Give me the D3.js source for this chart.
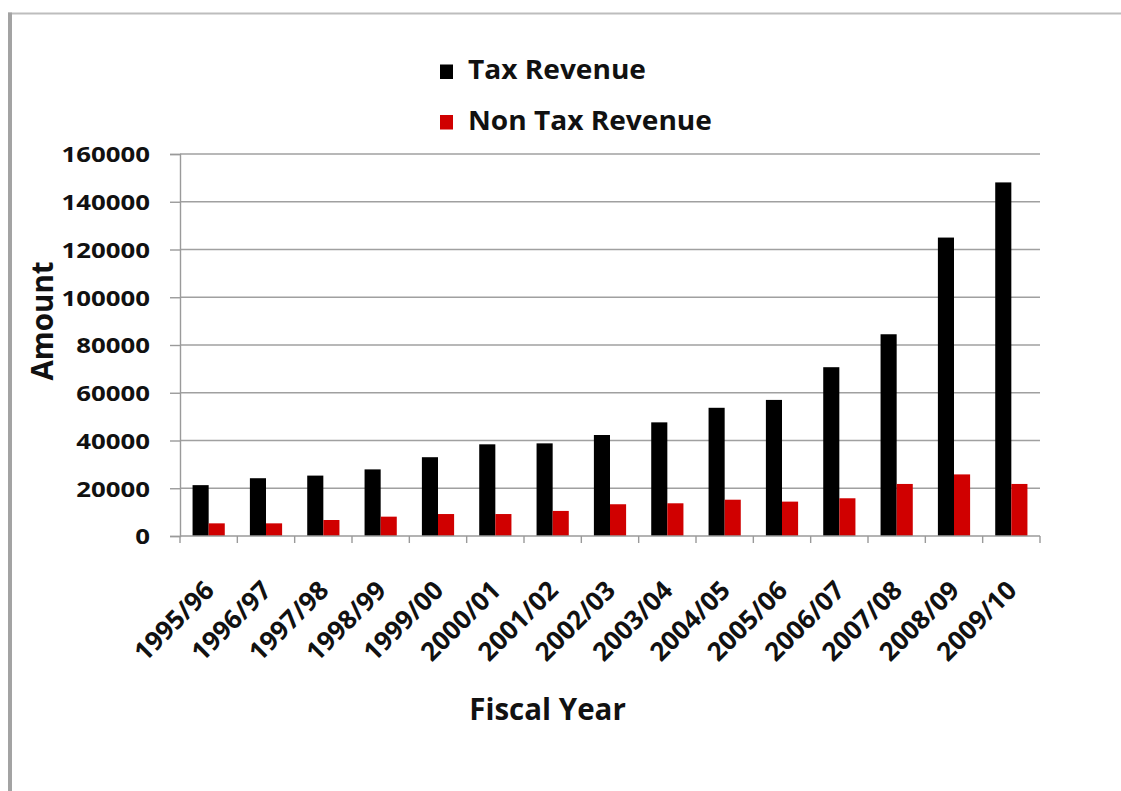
<!DOCTYPE html>
<html>
<head>
<meta charset="utf-8">
<script src="https://cdn.jsdelivr.net/npm/d3@7"></script>
<style>
  html, body { margin: 0; padding: 0; background: #ffffff; }
  svg { display: block; }
  text { font-family: "Open Sans", "Noto Sans", sans-serif; font-weight: 700; fill: #111; }
</style>
</head>
<body>
<svg id="chart" width="1121" height="791"></svg>
<script>
// Fiscal years on the category axis
const years = ["1995/96","1996/97","1997/98","1998/99","1999/00","2000/01","2001/02",
               "2002/03","2003/04","2004/05","2005/06","2006/07","2007/08","2008/09","2009/10"];
// Revenue series
const taxRevenue    = [21300, 24200, 25300, 27900, 33000, 38400, 38800, 42300,
                       47600, 53700, 57000, 70700, 84500, 125000, 148100];
const nonTaxRevenue = [5300, 5300, 6700, 8100, 9200, 9200, 10500, 13300,
                       13700, 15200, 14400, 15800, 21800, 25800, 21800];
const seriesNames  = ["Tax Revenue", "Non Tax Revenue"];
const seriesColors = ["#000000", "#d00000"];
const yTicks = [0, 20000, 40000, 60000, 80000, 100000, 120000, 140000, 160000];

const svg = d3.select("#chart");
const W = 1121, H = 791;
const plot = { left: 180, right: 1040, top: 154, bottom: 536 };

// outer frame
svg.append("line").attr("x1", 8).attr("x2", W).attr("y1", 13.5).attr("y2", 13.5)
  .attr("stroke", "#bdbdbd").attr("stroke-width", 2);
svg.append("line").attr("x1", 10).attr("x2", 10).attr("y1", 12.5).attr("y2", H)
  .attr("stroke", "#a3a3a3").attr("stroke-width", 4);

const x0 = d3.scaleBand().domain(years).range([plot.left, plot.right]).padding(0);
const x1 = d3.scaleBand().domain(seriesNames).range([0, x0.bandwidth()])
  .paddingInner(0).paddingOuter(0.78);
const y = d3.scaleLinear().domain([0, 160000]).range([plot.bottom, plot.top]);

// horizontal gridlines
svg.append("g").selectAll("line").data(yTicks.filter(d => d > 0)).join("line")
  .attr("x1", plot.left).attr("x2", plot.right)
  .attr("y1", d => y(d)).attr("y2", d => y(d))
  .attr("stroke", "#a0a0a0").attr("stroke-width", 1.5);

// y axis
const yAxis = svg.append("g").attr("transform", `translate(${plot.left},0)`)
  .call(d3.axisLeft(y).tickValues(yTicks).tickSize(10).tickPadding(20).tickFormat(d3.format("d")));
yAxis.select(".domain").attr("stroke", "#9a9a9a").attr("stroke-width", 1.4);
yAxis.selectAll(".tick line").attr("stroke", "#9a9a9a").attr("stroke-width", 1.4);
yAxis.selectAll(".tick text")
  .style("font-family", "'Open Sans', sans-serif").style("font-weight", 700)
  .attr("font-size", 21.5).attr("fill", "#111").attr("dy", "0.36em")
  .each(function () {
    const w = this.getComputedTextLength();
    d3.select(this).attr("textLength", w * 1.2).attr("lengthAdjust", "spacingAndGlyphs");
  });

// bars
const rows = years.map((yr, i) => ({ yr, vals: [taxRevenue[i], nonTaxRevenue[i]] }));
const groups = svg.append("g").selectAll("g").data(rows).join("g")
  .attr("transform", d => `translate(${x0(d.yr)},0)`);
groups.selectAll("rect")
  .data(d => d.vals.map((v, k) => ({ name: seriesNames[k], v, k })))
  .join("rect")
  .attr("x", d => x1(d.name))
  .attr("width", x1.bandwidth())
  .attr("y", d => y(d.v))
  .attr("height", d => y(0) - y(d.v))
  .attr("fill", d => seriesColors[d.k]);

// x axis with category boundary ticks
const xAxisG = svg.append("g").attr("transform", `translate(0,${plot.bottom})`);
xAxisG.append("line").attr("x1", plot.left).attr("x2", plot.right)
  .attr("stroke", "#9a9a9a").attr("stroke-width", 1.4);
const bounds = years.map(d => x0(d)).concat([plot.right]);
xAxisG.selectAll("line.tk").data(bounds).join("line").attr("class", "tk")
  .attr("x1", d => d).attr("x2", d => d).attr("y1", 0).attr("y2", 7)
  .attr("stroke", "#9a9a9a").attr("stroke-width", 1.4);
xAxisG.selectAll("text").data(years).join("text")
  .attr("transform", d => `translate(${x0(d) + x0.bandwidth() / 2 + 7},${56}) rotate(-45)`)
  .attr("text-anchor", "end")
  .attr("font-size", 26)
  .text(d => d);

// axis titles
svg.append("text")
  .attr("transform", "translate(53,321) rotate(-90)")
  .attr("text-anchor", "middle").attr("font-size", 29.5)
  .text("Amount");
svg.append("text")
  .attr("x", 547.5).attr("y", 720)
  .attr("text-anchor", "middle").attr("font-size", 29.5)
  .text("Fiscal Year");

// legend
const legend = svg.append("g");
const legendRows = [{ name: seriesNames[0], color: seriesColors[0], y: 79 },
                    { name: seriesNames[1], color: seriesColors[1], y: 129.5 }];
legend.selectAll("rect").data(legendRows).join("rect")
  .attr("x", 440).attr("y", d => d.y - 14.5).attr("width", 13).attr("height", 14.5)
  .attr("fill", d => d.color);
legend.selectAll("text").data(legendRows).join("text")
  .attr("x", 468).attr("y", d => d.y).attr("font-size", 26)
  .text(d => d.name)
  .each(function () {
    const w = this.getComputedTextLength();
    d3.select(this).attr("textLength", w * 1.08).attr("lengthAdjust", "spacingAndGlyphs");
  });
</script>
</body>
</html>
